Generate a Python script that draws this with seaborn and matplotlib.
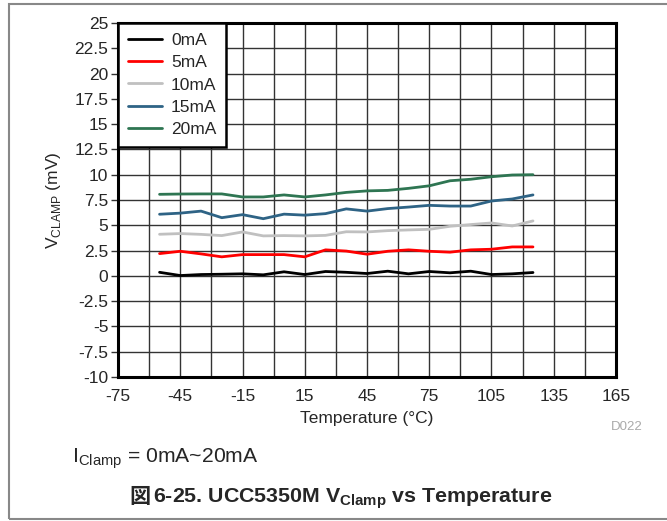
import pandas as pd
import seaborn as sns
import matplotlib.pyplot as plt
from matplotlib.patches import Rectangle

# Temperature sweep (°C) and clamp voltage (mV) for each clamp current
temps = [-55, -45, -35, -25, -15, -5, 5, 15, 25, 35, 45, 55, 65, 75, 85, 95, 105, 115, 125]
v_0ma = [0.35, 0.03, 0.13, 0.16, 0.2, 0.1, 0.4, 0.13, 0.43, 0.35, 0.23, 0.46, 0.2, 0.43, 0.3, 0.46, 0.13, 0.2, 0.33]
v_5ma = [2.2, 2.43, 2.17, 1.88, 2.1, 2.1, 2.1, 1.88, 2.57, 2.45, 2.14, 2.43, 2.57, 2.43, 2.34, 2.57, 2.63, 2.86, 2.86]
v_10ma = [4.11, 4.18, 4.1, 3.98, 4.34, 3.95, 3.98, 3.95, 4.0, 4.36, 4.34, 4.47, 4.54, 4.6, 4.9, 5.07, 5.23, 4.93, 5.43]
v_15ma = [6.09, 6.2, 6.4, 5.75, 6.05, 5.65, 6.1, 6.0, 6.15, 6.62, 6.4, 6.65, 6.8, 6.97, 6.9, 6.9, 7.4, 7.6, 8.0]
v_20ma = [8.06, 8.09, 8.1, 8.1, 7.8, 7.8, 8.0, 7.8, 8.0, 8.25, 8.4, 8.45, 8.65, 8.9, 9.4, 9.55, 9.8, 9.97, 10.0]

series_names = ['0mA', '5mA', '10mA', '15mA', '20mA']
series_colors = ['#000000', '#ff0000', '#c0c0c0', '#2e6385', '#2e7552']

x_ticks = list(range(-75, 166, 30))
y_ticks = [v * 2.5 for v in range(-4, 11)]

rows = []
for name, vals in zip(series_names, [v_0ma, v_5ma, v_10ma, v_15ma, v_20ma]):
    for t, v in zip(temps, vals):
        rows.append({'Temperature': t, 'Vclamp': v, 'Current': name})
df = pd.DataFrame(rows)

sns.set_style('white')
plt.rcParams['font.family'] = ['Liberation Sans', 'Noto Sans CJK JP']
plt.rcParams['mathtext.fontset'] = 'custom'
plt.rcParams['mathtext.rm'] = 'Liberation Sans'
plt.rcParams['mathtext.bf'] = 'Liberation Sans:bold'

fig = plt.figure(figsize=(6.67, 5.21), dpi=100)
ax = fig.add_axes([0.177, 0.2764, 0.7465, 0.6795])

sns.lineplot(data=df, x='Temperature', y='Vclamp', hue='Current',
             palette=dict(zip(series_names, series_colors)), hue_order=series_names,
             linewidth=2, ax=ax)

ax.set_xlim(-75, 165)
ax.set_ylim(-10, 25)
ax.set_xticks(range(-75, 166, 15), minor=True)
ax.set_xticks(x_ticks)
ax.set_xticklabels([str(t) for t in x_ticks], fontsize=12.5)
ax.set_yticks(y_ticks)
ax.set_yticklabels([f'{v:g}' for v in y_ticks], fontsize=12.5)
ax.grid(True, which='both', color='#333333', linewidth=1)
ax.tick_params(axis='y', which='major', length=5, width=1, color='#333333', left=True, pad=2)
ax.tick_params(axis='x', which='both', length=0, pad=9)
for s in ax.spines.values():
    s.set_linewidth(2.2)
    s.set_color('black')

ax.set_xlabel('Temperature (°C)', fontsize=12.5, labelpad=5)
ax.set_ylabel(r'V$_{\mathregular{CLAMP}}$ (mV)', fontsize=12.5, labelpad=8)

leg = ax.legend(loc='upper left', bbox_to_anchor=(0, 1), borderaxespad=0, fontsize=12.5,
                frameon=True, fancybox=False, framealpha=1, edgecolor='black',
                handlelength=2.0, handletextpad=0.5, labelspacing=0.42,
                borderpad=0.55)
leg.get_frame().set_linewidth(1.8)
leg.set_title(None)

fig.text(643 / 667, 1 - 427 / 521, 'D022', fontsize=9.5, color='#aaaaaa', ha='right', va='center')
fig.text(72 / 667, 1 - 462 / 521, r'I$_{\mathregular{Clamp}}$ = 0mA~20mA', fontsize=15.2,
         ha='left', va='baseline')
fig.text(129 / 667, 1 - 503 / 521, '図', fontsize=15.2, weight='bold',
         family=['Noto Sans CJK JP'], ha='left', va='baseline')
fig.text(153 / 667, 1 - 503 / 521, r'6-25. UCC5350M $\mathbf{V_{Clamp}}$ vs Temperature',
         fontsize=15.4, weight='bold', ha='left', va='baseline')

fig.patches.append(Rectangle((9 / 667, 2 / 521), 1.0, 1 - 6 / 521, transform=fig.transFigure,
                             fill=False, edgecolor='#888888', linewidth=1.5))

fig.savefig('out.png', dpi=100)
